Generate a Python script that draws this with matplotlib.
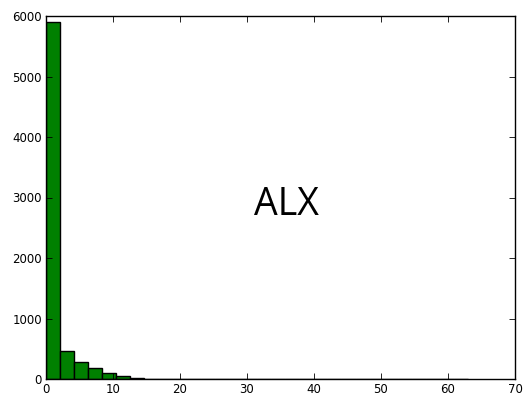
import matplotlib
matplotlib.use("Agg")
import matplotlib.pyplot as plt
import numpy as np

# Histogram bin counts (30 bins of width 2.1 from 0 to 63)
bin_edges = np.linspace(0, 63, 31)
counts = [5900, 455, 285, 190, 105, 52, 22, 5, 4, 3,
          1, 0, 0, 0, 0, 0, 0, 0, 0, 0,
          0, 0, 0, 0, 0, 0, 0, 0, 0, 1]
label = "ALX"
xticks = [0, 10, 20, 30, 40, 50, 60, 70]
yticks = [0, 1000, 2000, 3000, 4000, 5000, 6000]

fig = plt.figure(figsize=(5.25, 3.97), dpi=100)
fig.patch.set_facecolor("white")
ax = fig.add_axes([46/525, 1 - 379/397, (515-46)/525, (379-16)/397])

centers = (bin_edges[:-1] + bin_edges[1:]) / 2
ax.hist(centers, bins=bin_edges, weights=counts, color="green",
        edgecolor="black", linewidth=1.0)

ax.set_xlim(0, 70)
ax.set_ylim(0, 6000)
ax.set_xticks(xticks)
ax.set_yticks(yticks)
ax.tick_params(direction="in", top=True, right=True, labelsize=8.5,
               length=4, width=0.6, pad=3)
for s in ax.spines.values():
    s.set_linewidth(1.0)

fig.text(286/525, 1 - 205/397, label, fontsize=27, family="Open Sans",
         ha="center", va="center")

fig.savefig("out.png", dpi=100, facecolor="white")
